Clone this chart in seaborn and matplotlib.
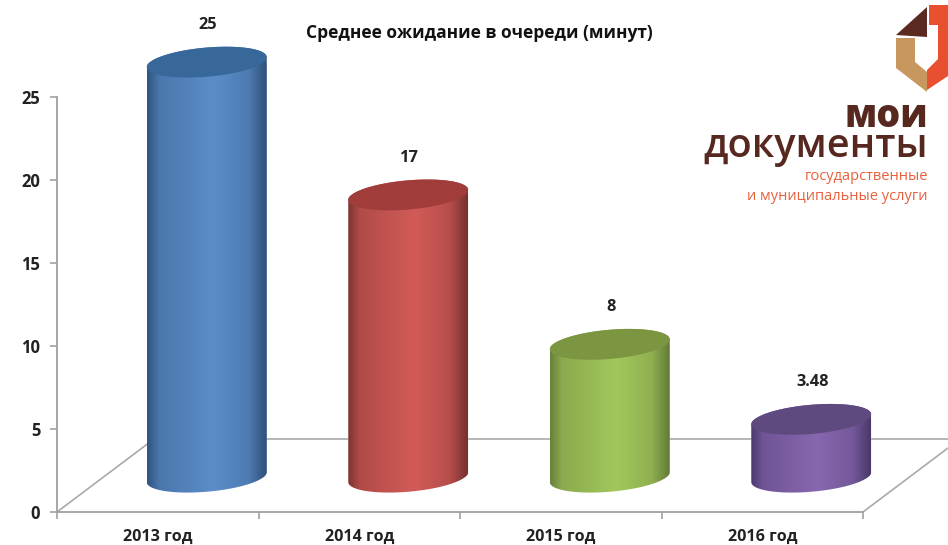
import numpy as np
import matplotlib
matplotlib.use('Agg')
import matplotlib.pyplot as plt
from matplotlib.colors import LinearSegmentedColormap, to_rgb
from matplotlib.patches import PathPatch
from matplotlib.path import Path
import seaborn as sns

years = ['2013 год', '2014 год', '2015 год', '2016 год']
waits = [25, 17, 8, 3.48]
wait_labels = ['25', '17', '8', '3.48']
yticks = [0, 5, 10, 15, 20, 25]
title = 'Среднее ожидание в очереди (минут)'

# left edge, middle, right edge, top face
bar_colors = [
    ['#2f5580', '#5c8dc9', '#2c5078', '#386799'],
    ['#7e3432', '#d25b57', '#763030', '#a03d3b'],
    ['#67803a', '#a3c75b', '#627a36', '#7b9541'],
    ['#4c3a70', '#8767af', '#49376a', '#5f4a80'],
]

sns.set_theme(style='white')
plt.rcParams['font.family'] = ['Open Sans', 'DejaVu Sans']
fig = plt.figure(figsize=(9.48, 5.45), dpi=100)

# background layer in pixels: the fake 3d floor and the logo
bg = fig.add_axes([0, 0, 1, 1])
bg.set_xlim(0, 948)
bg.set_ylim(545, 0)
bg.axis('off')
floor = '#a9a9a9'
bg.plot([57, 154], [512, 439], color=floor, lw=1.2)
bg.plot([154, 948], [439, 439], color=floor, lw=1.2)
bg.plot([863, 948], [512, 448], color=floor, lw=1.2)

bg.fill([896, 927, 927], [35, 7, 37], color='#5a2a20', lw=0)
bg.fill([929, 948, 948, 927, 927, 938, 938, 929], [5, 5, 76, 90, 70, 59, 25, 25], color='#e8502f', lw=0)
bg.fill([896, 915, 915, 927, 927, 896], [38, 38, 62, 72, 92, 68], color='#c8975f', lw=0)
bg.text(928, 127, 'мои', ha='right', va='baseline', fontsize=27, fontweight='black', color='#57281f', family='Open Sans')
bg.text(928, 157, 'документы', ha='right', va='baseline', fontsize=28.5, fontweight=600, color='#57281f', family='Open Sans')
bg.text(928, 177, 'государственные', ha='right', va='center', fontsize=10.5, color='#e8603c', family='Open Sans')
bg.text(928, 196, 'и муниципальные услуги', ha='right', va='center', fontsize=10.5, color='#e8603c', family='Open Sans')

# main axes, y=0 at pixel 512 and y=25 at pixel 97
ax = fig.add_axes([57 / 948, 33 / 545, 856.4 / 948, 498 / 545])
ax.patch.set_alpha(0)
sns.barplot(x=years, y=waits, hue=years, palette=[c[1] for c in bar_colors],
            width=0.595, legend=False, ax=ax)
ax.set_xlim(-0.5, 3.75)
ax.set_ylim(0, 30)

base = 2.1        # bars stand on the floor, above the axis line
shift = 0.243     # and behind it, to the right of their tick labels
tilt = 0.3
rim = 0.88
t = np.linspace(0, 2 * np.pi, 121)


def mix(c1, c2, k):
    return tuple(np.array(to_rgb(c1)) * (1 - k) + np.array(to_rgb(c2)) * k)


for i, p in enumerate(ax.patches):
    x0 = p.get_x() + shift
    w = p.get_width()
    v = p.get_height()
    p.set_x(x0)
    p.set_y(base)
    a = w / 2
    cx = x0 + a
    ex = cx + a * np.cos(t)
    eoff = rim * np.sin(t) + tilt * np.cos(t)

    # outline of the body: top rim, then down around the lower half of the base
    low = t[t >= np.pi]
    up = t[t <= np.pi]
    bx = np.r_[cx + a * np.cos(up), cx + a * np.cos(low)]
    by = np.r_[base + v + rim * np.sin(up) + tilt * np.cos(up),
               base + rim * np.sin(low) + tilt * np.cos(low)]
    clip = PathPatch(Path(np.c_[bx, by]), transform=ax.transData, fc='none', ec='none')
    ax.add_patch(clip)
    p.set_clip_path(clip)

    left, mid, right, top = bar_colors[i]
    cmap = LinearSegmentedColormap.from_list('cyl', [(0, left), (0.1, mix(left, mid, 0.6)),
                                                     (0.55, mid), (0.85, mix(mid, right, 0.3)),
                                                     (1, right)])
    im = ax.imshow(np.linspace(0, 1, 256)[None, :], cmap=cmap, aspect='auto', zorder=3,
                   extent=[x0, x0 + w, base - 2, base + v + 2])
    im.set_clip_path(clip)
    ax.fill(ex, base + v + eoff, color=top, lw=0, zorder=4)

    ax.annotate(wait_labels[i], (cx, base + v), xytext=(1, 37), textcoords='offset pixels',
                ha='center', va='center', fontsize=11.8, fontweight='bold', color='#222222',
                annotation_clip=False, zorder=5)

ax.set_xlim(-0.5, 3.75)
ax.set_ylim(0, 30)

sns.despine(ax=ax)
for s in ['left', 'bottom']:
    ax.spines[s].set_color('#a0a0a0')
    ax.spines[s].set_linewidth(1.3)
ax.spines['left'].set_bounds(0, 25)
ax.spines['bottom'].set_bounds(-0.5, 3.5)
ax.set_yticks(yticks)
ax.set_xticks(np.arange(-0.5, 4, 1), minor=True)
ax.tick_params(axis='y', length=5, width=1.2, color='#a0a0a0', left=True, pad=7,
               labelsize=12, labelcolor='#222222')
ax.tick_params(axis='x', which='major', length=0, pad=12, labelsize=11.6, labelcolor='#222222')
ax.tick_params(axis='x', which='minor', length=5, width=1.2, color='#a0a0a0', bottom=True)
for lab in ax.get_xticklabels() + ax.get_yticklabels():
    lab.set_fontweight('bold')
ax.set_xlabel('')
ax.set_ylabel('')

fig.text(479 / 948, 1 - 33 / 545, title, ha='center', va='center', fontsize=12.5,
         fontweight='bold', color='#111111')

fig.savefig('out.png', dpi=100)
